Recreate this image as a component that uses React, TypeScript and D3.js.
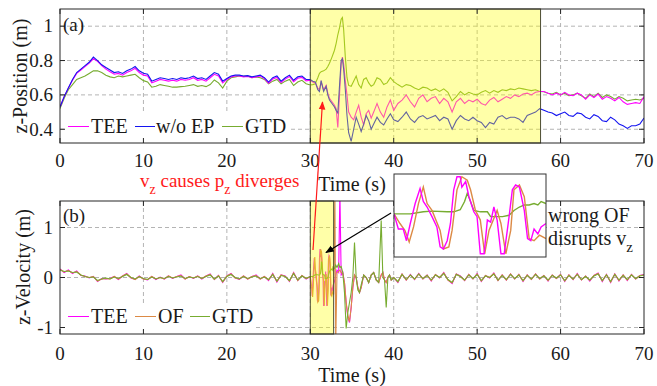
import React from 'react';
import * as d3 from 'd3';

const W = 657;
const H = 386;
const FONT = "'Liberation Serif', 'DejaVu Serif', 'Times New Roman', Times, serif";

// sample instants
const tPre = d3.range(0, 29.99, 0.5); // 0 .. 29.5
const tPost = d3.range(40.5, 70.01, 0.5); // 40.5 .. 70
const tPosMid = [30, 30.3, 30.6, 30.9, 31.1, 31.3, 31.6, 31.9, 32.1, 32.3, 32.6, 32.9, 33.1, 33.3, 33.5, 33.7, 33.85, 34.0, 34.2, 34.4, 34.6, 34.9, 35.2, 35.5, 35.8, 36.1, 36.4, 36.7, 37.0, 37.3, 37.6, 38.0, 38.4, 38.8, 39.2, 39.6, 40.0];
const tVelMid = [32.95, 33.05, 33.2, 33.4, 33.55, 33.7, 33.9, 34.1, 34.3, 34.5, 34.7, 34.9, 35.1, 35.3, 35.5, 35.7, 35.9, 36.1, 36.4, 36.7, 37.0, 37.3, 37.6, 37.9, 38.2, 38.5, 38.7, 38.9, 39.1, 39.3, 39.5, 39.7, 40.0];

// (a) z-position
const posTEEpre = [0.53, 0.59, 0.64, 0.685, 0.725, 0.745, 0.765, 0.785, 0.81, 0.795, 0.77, 0.75, 0.735, 0.72, 0.725, 0.715, 0.73, 0.74, 0.755, 0.73, 0.715, 0.71, 0.67, 0.68, 0.69, 0.685, 0.68, 0.685, 0.68, 0.69, 0.685, 0.69, 0.7, 0.685, 0.69, 0.68, 0.7, 0.72, 0.71, 0.67, 0.69, 0.705, 0.71, 0.71, 0.705, 0.707, 0.7, 0.705, 0.71, 0.695, 0.668, 0.692, 0.702, 0.672, 0.692, 0.707, 0.677, 0.697, 0.702, 0.682];
const posTEEmid = [0.685, 0.675, 0.67, 0.64, 0.63, 0.675, 0.63, 0.655, 0.61, 0.58, 0.56, 0.54, 0.52, 0.41, 0.6, 0.78, 0.82, 0.78, 0.68, 0.6, 0.5, 0.47, 0.455, 0.5, 0.54, 0.47, 0.425, 0.49, 0.51, 0.465, 0.5, 0.55, 0.5, 0.47, 0.53, 0.57, 0.51];
const posTEEpost = [0.55, 0.57, 0.6, 0.56, 0.53, 0.58, 0.6, 0.56, 0.58, 0.59, 0.55, 0.58, 0.56, 0.5, 0.56, 0.58, 0.55, 0.57, 0.56, 0.575, 0.55, 0.54, 0.57, 0.585, 0.56, 0.575, 0.59, 0.58, 0.6, 0.59, 0.605, 0.61, 0.6, 0.615, 0.62, 0.62, 0.61, 0.6, 0.61, 0.6, 0.615, 0.6, 0.595, 0.61, 0.6, 0.575, 0.6, 0.585, 0.605, 0.575, 0.59, 0.58, 0.565, 0.585, 0.56, 0.545, 0.55, 0.555, 0.55, 0.59];

const posEPpre = [0.53, 0.59, 0.64, 0.69, 0.73, 0.75, 0.77, 0.79, 0.82, 0.8, 0.775, 0.76, 0.745, 0.73, 0.735, 0.725, 0.74, 0.75, 0.765, 0.74, 0.726, 0.72, 0.68, 0.69, 0.7, 0.695, 0.69, 0.695, 0.69, 0.7, 0.695, 0.7, 0.71, 0.695, 0.7, 0.69, 0.71, 0.73, 0.72, 0.68, 0.695, 0.71, 0.715, 0.715, 0.71, 0.712, 0.705, 0.71, 0.715, 0.7, 0.675, 0.7, 0.71, 0.68, 0.7, 0.715, 0.685, 0.705, 0.71, 0.69];
const posEPmid = [0.69, 0.68, 0.675, 0.63, 0.62, 0.683, 0.62, 0.65, 0.6, 0.57, 0.55, 0.53, 0.51, 0.495, 0.65, 0.8, 0.81, 0.75, 0.63, 0.48, 0.38, 0.33, 0.4, 0.47, 0.43, 0.387, 0.43, 0.48, 0.45, 0.4, 0.43, 0.47, 0.44, 0.425, 0.46, 0.49, 0.455];
const posEPpost = [0.445, 0.47, 0.5, 0.46, 0.44, 0.47, 0.48, 0.46, 0.47, 0.48, 0.45, 0.47, 0.46, 0.4, 0.45, 0.48, 0.46, 0.45, 0.47, 0.45, 0.44, 0.41, 0.44, 0.43, 0.47, 0.48, 0.46, 0.47, 0.47, 0.46, 0.44, 0.48, 0.49, 0.5, 0.52, 0.51, 0.5, 0.495, 0.48, 0.49, 0.5, 0.48, 0.475, 0.495, 0.49, 0.47, 0.46, 0.485, 0.475, 0.45, 0.445, 0.47, 0.455, 0.43, 0.42, 0.405, 0.42, 0.42, 0.43, 0.465];

const posGTDpre = [0.52, 0.58, 0.63, 0.66, 0.69, 0.7, 0.71, 0.725, 0.74, 0.74, 0.73, 0.715, 0.705, 0.7, 0.71, 0.705, 0.71, 0.715, 0.72, 0.7, 0.683, 0.675, 0.645, 0.65, 0.66, 0.655, 0.65, 0.645, 0.645, 0.648, 0.65, 0.655, 0.66, 0.65, 0.655, 0.648, 0.66, 0.687, 0.67, 0.64, 0.68, 0.7, 0.705, 0.71, 0.708, 0.71, 0.7, 0.705, 0.7, 0.69, 0.665, 0.68, 0.69, 0.665, 0.68, 0.69, 0.655, 0.675, 0.685, 0.665];
const posGTDmid = [0.658, 0.66, 0.665, 0.7, 0.726, 0.735, 0.74, 0.75, 0.765, 0.784, 0.82, 0.86, 0.9, 0.95, 0.99, 1.04, 1.05, 0.98, 0.82, 0.7, 0.655, 0.65, 0.68, 0.71, 0.66, 0.64, 0.69, 0.7, 0.67, 0.65, 0.66, 0.7, 0.69, 0.66, 0.67, 0.7, 0.677];
const posGTDpost = [0.66, 0.645, 0.66, 0.655, 0.64, 0.63, 0.645, 0.64, 0.625, 0.635, 0.62, 0.635, 0.615, 0.565, 0.59, 0.62, 0.6, 0.615, 0.605, 0.6, 0.615, 0.625, 0.61, 0.625, 0.615, 0.63, 0.625, 0.635, 0.63, 0.64, 0.635, 0.63, 0.625, 0.63, 0.62, 0.618, 0.61, 0.605, 0.615, 0.6, 0.61, 0.595, 0.6, 0.61, 0.595, 0.58, 0.605, 0.59, 0.61, 0.585, 0.6, 0.59, 0.575, 0.59, 0.58, 0.565, 0.57, 0.575, 0.57, 0.58];

// (b) z-velocity
const velTEEpre = [0.17, 0.1, 0.15, 0.08, 0.13, 0.04, 0.03, -0.01, 0.02, -0.08, -0.02, -0.03, -0.02, 0.02, -0.04, 0.03, 0.08, -0.01, -0.04, 0.03, -0.03, -0.05, 0.02, -0.04, 0.01, -0.03, 0.03, -0.02, 0.02, 0.05, -0.03, 0.02, -0.02, 0.03, -0.03, 0.03, 0.07, -0.04, 0.04, -0.1, 0.03, 0.08, -0.01, -0.04, 0.03, -0.03, 0.02, 0.05, -0.03, 0.02, -0.06, 0.08, -0.09, 0.05, 0.03, -0.08, 0.1, -0.06, 0.04, -0.03];
const velTEEmid = [-0.05, 0.05, 0.15, 0.1, 1.7, 0.05, 0.1, -0.1, -0.5, -0.8, -0.9, -0.6, -0.2, 0.05, 0.0, -0.2, -0.3, -0.2, 0.05, 0.0, -0.1, 0.05, 0.1, -0.05, -0.1, 0.05, 0.1, -0.05, -0.1, 0.0, 0.05, -0.05, 0.0];
const velTEEpost = [-0.1, 0.07, -0.05, 0.06, -0.04, 0.08, -0.03, 0.05, -0.07, 0.06, -0.01, 0.1, -0.05, -0.12, 0.07, 0.03, -0.06, 0.06, -0.03, 0.08, -0.08, 0.04, -0.01, 0.09, -0.06, 0.05, -0.05, 0.07, -0.03, 0.06, -0.08, 0.05, -0.04, 0.07, -0.03, 0.04, -0.07, 0.05, -0.02, 0.06, -0.08, 0.05, -0.04, 0.08, -0.05, 0.03, -0.07, 0.04, 0.09, -0.08, 0.06, -0.1, 0.07, -0.07, 0.05, -0.06, 0.06, -0.03, 0.04, 0.06];

const velOFpre = [0.16, 0.11, 0.14, 0.09, 0.12, 0.05, 0.02, 0.0, 0.02, -0.07, -0.03, -0.02, -0.03, 0.02, -0.03, 0.03, 0.07, 0.0, -0.04, 0.02, -0.03, -0.04, 0.02, -0.03, 0.0, -0.03, 0.03, -0.01, 0.02, 0.04, -0.03, 0.02, -0.01, 0.03, -0.02, 0.03, 0.06, -0.04, 0.04, -0.09, 0.03, 0.07, -0.01, -0.03, 0.03, -0.03, 0.02, 0.04, -0.03, 0.02, -0.05, 0.07, -0.08, 0.05, 0.02, -0.07, 0.09, -0.06, 0.04, -0.02];
const velOFmid = [1.7, -1.3, 0.1, 0.12, 0.15, 0.1, 0.08, -0.1, -0.5, -0.75, -0.88, -0.6, -0.2, 0.05, 0.0, -0.2, -0.3, -0.2, 0.05, 0.0, -0.1, 0.05, 0.1, -0.05, -0.1, 0.05, 0.1, -0.05, -0.1, 0.0, 0.05, -0.05, 0.0];
const velOFpost = [-0.09, 0.07, -0.05, 0.05, -0.04, 0.07, -0.03, 0.05, -0.06, 0.06, 0.0, 0.09, -0.05, -0.11, 0.07, 0.02, -0.06, 0.06, -0.03, 0.07, -0.07, 0.04, 0.0, 0.08, -0.06, 0.05, -0.05, 0.07, -0.03, 0.06, -0.07, 0.05, -0.04, 0.07, -0.03, 0.04, -0.06, 0.05, -0.02, 0.06, -0.07, 0.05, -0.04, 0.07, -0.05, 0.03, -0.06, 0.04, 0.08, -0.07, 0.06, -0.09, 0.07, -0.06, 0.05, -0.05, 0.06, -0.03, 0.04, 0.05];

const velGTDpre = [0.15, 0.12, 0.13, 0.1, 0.11, 0.05, 0.02, 0.0, 0.01, -0.06, -0.03, -0.01, -0.03, 0.01, -0.02, 0.02, 0.06, 0.0, -0.03, 0.02, -0.02, -0.04, 0.01, -0.03, 0.0, -0.02, 0.02, -0.01, 0.01, 0.03, -0.02, 0.01, -0.01, 0.02, -0.02, 0.02, 0.05, -0.03, 0.03, -0.08, 0.02, 0.06, 0.0, -0.03, 0.02, -0.02, 0.01, 0.03, -0.02, 0.01, -0.04, 0.06, -0.07, 0.04, 0.02, -0.06, 0.08, -0.05, 0.03, -0.02];
const velGTDmid = [0.2, 0.25, 0.2, 0.28, 0.2, 0.22, 0.1, -0.3, -1.02, -0.7, -0.5, -0.3, 0.0, 0.7, 0.0, -0.25, -0.3, -0.15, 0.05, 0.0, -0.1, 0.05, 0.1, -0.05, -0.1, 1.14, 0.0, -0.05, -0.6, 0.0, 0.05, -0.05, 0.0];
const velGTDpost = [-0.08, 0.06, -0.04, 0.05, -0.03, 0.07, -0.02, 0.04, -0.05, 0.05, 0.0, 0.08, -0.04, -0.1, 0.06, 0.02, -0.05, 0.05, -0.02, 0.06, -0.06, 0.03, 0.0, 0.07, -0.05, 0.04, -0.04, 0.06, -0.02, 0.05, -0.06, 0.04, -0.03, 0.06, -0.02, 0.03, -0.05, 0.04, -0.01, 0.05, -0.06, 0.04, -0.03, 0.06, -0.04, 0.02, -0.05, 0.03, 0.07, -0.06, 0.05, -0.08, 0.06, -0.05, 0.04, -0.04, 0.05, -0.02, 0.03, 0.05];

// zoomed window 30 .. 32.8 s (also shown in the inset)
const inTEEt = [30.0, 30.08, 30.17, 30.23, 30.3, 30.39, 30.48, 30.54, 30.61, 30.7, 30.79, 30.85, 30.91, 30.98, 31.04, 31.1, 31.16, 31.22, 31.25, 31.32, 31.38, 31.47, 31.53, 31.59, 31.66, 31.72, 31.78, 31.84, 31.9, 31.97, 32.03, 32.12, 32.18, 32.24, 32.31, 32.4, 32.46, 32.52, 32.58, 32.65, 32.71, 32.8];
const inTEEv = [0.02, -0.2, -0.2, -0.37, -0.12, 0.17, 0.39, 0.2, 0.12, -0.02, -0.17, -0.46, -0.49, -0.37, -0.12, 0.37, 0.56, 0.56, 0.41, 0.49, 0.27, 0.05, -0.02, -0.56, -0.56, -0.07, -0.1, 0.12, -0.07, -0.56, -0.56, -0.02, 0.37, 0.44, 0.41, 0.07, -0.34, -0.37, -0.2, -0.27, -0.17, -0.12];
const inOFt = [30.0, 30.11, 30.2, 30.28, 30.36, 30.45, 30.54, 30.61, 30.7, 30.85, 30.91, 31.01, 31.07, 31.16, 31.25, 31.35, 31.41, 31.5, 31.59, 31.67, 31.75, 31.9, 31.97, 32.06, 32.15, 32.21, 32.31, 32.4, 32.49, 32.58, 32.68, 32.8];
const inOFv = [0.02, -0.12, -0.22, -0.39, -0.17, 0.17, 0.41, 0.17, 0.07, -0.22, -0.49, -0.46, -0.22, 0.37, 0.56, 0.51, 0.37, 0.07, -0.07, -0.56, -0.22, 0.07, -0.12, -0.56, -0.22, 0.37, 0.44, 0.27, -0.34, -0.37, -0.29, -0.34];
const inGTDt = [30.0, 30.3, 30.54, 30.7, 30.98, 31.1, 31.22, 31.3, 31.35, 31.41, 31.47, 31.59, 31.72, 31.78, 32.0, 32.12, 32.21, 32.31, 32.4, 32.49, 32.58, 32.65, 32.71, 32.8];
const inGTDv = [0.02, 0.02, 0.05, 0.06, 0.05, 0.05, 0.08, 0.2, 0.32, 0.2, 0.07, 0.05, 0.05, -0.02, -0.02, 0.0, 0.07, 0.12, 0.15, 0.15, 0.17, 0.15, 0.2, 0.17];

const xTicks = [0, 10, 20, 30, 40, 50, 60, 70];
const posTicks = [0.4, 0.6, 0.8, 1];
const velTicks = [-1, 0, 1];

type Pt = [number, number];
const zip = (ts: number[], vs: number[]): Pt[] =>
  vs.map((v, i) => [ts[i], v] as Pt).filter(d => d[0] !== undefined);

const posTEE = [...zip(tPre, posTEEpre), ...zip(tPosMid, posTEEmid), ...zip(tPost, posTEEpost)];
const posEP = [...zip(tPre, posEPpre), ...zip(tPosMid, posEPmid), ...zip(tPost, posEPpost)];
const posGTD = [...zip(tPre, posGTDpre), ...zip(tPosMid, posGTDmid), ...zip(tPost, posGTDpost)];

const inTEE = zip(inTEEt, inTEEv);
const inOF = zip(inOFt, inOFv);
const inGTD = zip(inGTDt, inGTDv);

const velTEE = [...zip(tPre, velTEEpre), ...inTEE, ...zip(tVelMid, velTEEmid), ...zip(tPost, velTEEpost)];
const velOF = [...zip(tPre, velOFpre), ...inOF, ...zip(tVelMid, velOFmid), ...zip(tPost, velOFpost)];
const velGTD = [...zip(tPre, velGTDpre), ...inGTD, ...zip(tVelMid, velGTDmid), ...zip(tPost, velGTDpost)];

const C_TEE = '#ff00ff';
const C_EP = '#1414f0';
const C_GTD = '#77ac30';
const C_OF = '#dc8a45';
const AX = '#262626';
const GRID = '#b4b4b4';
const TXT = '#1a1a1a';

const L = 60, R = 644;
const topY = [9, 143];
const botY = [201, 334];

const x = d3.scaleLinear().domain([0, 70]).range([L, R]);
const yPos = d3.scaleLinear().domain([0.32, 1.1]).range([topY[1], topY[0]]);
const yVel = d3.scaleLinear().domain([-1.13, 1.53]).range([botY[1], botY[0]]);
const xIn = d3.scaleLinear().domain([30, 32.8]).range([394, 546]);
const yIn = d3.scaleLinear().domain([-0.6, 0.6]).range([256.5, 174]);

const Grid = ({ y0, y1, yScale, yTicks }: any) => (
  <g>
    {xTicks.slice(1, -1).map(t => (
      <line key={'gx' + t} x1={x(t)} x2={x(t)} y1={y0} y2={y1} stroke={GRID} strokeDasharray="4 3" />
    ))}
    {yTicks.map((t: number) => (
      <line key={'gy' + t} x1={L} x2={R} y1={yScale(t)} y2={yScale(t)} stroke={GRID} strokeDasharray="4 3" />
    ))}
  </g>
);

const Box = ({ y0, y1, yScale, yTicks, labelY }: any) => (
  <g>
    <rect x={L} y={y0} width={R - L} height={y1 - y0} fill="none" stroke={AX} strokeWidth={1} />
    {xTicks.map(t => (
      <g key={'tx' + t}>
        <line x1={x(t)} x2={x(t)} y1={y1} y2={y1 - 5} stroke={AX} />
        <line x1={x(t)} x2={x(t)} y1={y0} y2={y0 + 5} stroke={AX} />
        <text x={x(t)} y={labelY} textAnchor="middle" fontSize={19} fill={TXT}>{t}</text>
      </g>
    ))}
    {yTicks.map((t: number) => (
      <g key={'ty' + t}>
        <line x1={L} x2={L + 5} y1={yScale(t)} y2={yScale(t)} stroke={AX} />
        <line x1={R} x2={R - 5} y1={yScale(t)} y2={yScale(t)} stroke={AX} />
        <text x={53} y={yScale(t)} dy="0.33em" textAnchor="end" fontSize={19} fill={TXT}>{String(t)}</text>
      </g>
    ))}
  </g>
);

export default function App() {
  const linePos = d3.line<Pt>().x(d => x(d[0])).y(d => yPos(d[1]));
  const lineVel = d3.line<Pt>().x(d => x(d[0])).y(d => yVel(d[1]));
  const lineIn = d3.line<Pt>().x(d => xIn(d[0])).y(d => yIn(d[1]));

  return (
    <div style={{ position: 'fixed', left: 0, top: 0 }}>
      <svg width={W} height={H} viewBox={`0 0 ${W} ${H}`} style={{ display: 'block', background: '#fff' }}>
        <defs>
          <clipPath id="clipTop"><rect x={L} y={topY[0]} width={R - L} height={topY[1] - topY[0]} /></clipPath>
          <clipPath id="clipBot"><rect x={L} y={botY[0]} width={R - L} height={botY[1] - botY[0]} /></clipPath>
          <clipPath id="clipIn"><rect x={394} y={174} width={152} height={83} /></clipPath>
          <marker id="arRed" viewBox="0 0 10 10" refX="9" refY="5" markerWidth="7" markerHeight="7" orient="auto">
            <path d="M0,1 L10,5 L0,9 z" fill="#ff1a1a" />
          </marker>
          <marker id="arBlack" viewBox="0 0 10 10" refX="9" refY="5" markerWidth="7" markerHeight="7" orient="auto">
            <path d="M0,1 L10,5 L0,9 z" fill="#000" />
          </marker>
        </defs>

        <g fontFamily={FONT}>
          {/* (a) position */}
          <Grid y0={topY[0]} y1={topY[1]} yScale={yPos} yTicks={posTicks} />
          <g clipPath="url(#clipTop)" fill="none" strokeWidth={1.1}>
            <path d={linePos(posGTD) || ''} stroke={C_GTD} />
            <path d={linePos(posTEE) || ''} stroke={C_TEE} />
            <path d={linePos(posEP) || ''} stroke={C_EP} />
          </g>
          <rect x={x(30)} y={topY[0]} width={x(57.6) - x(30)} height={topY[1] - topY[0]} fill="#ffff00" fillOpacity={0.34} stroke="#4d4d33" strokeWidth={1} />
          <rect x={66} y={113} width={224} height={27} fill="#fff" />
          <g fontSize={20} fill={TXT}>
            <line x1={68} x2={89} y1={126.5} y2={126.5} stroke={C_TEE} />
            <text x={91} y={133}>TEE</text>
            <line x1={135} x2={155} y1={126.5} y2={126.5} stroke={C_EP} />
            <text x={156} y={133}>w/o EP</text>
            <line x1={222} x2={243} y1={126.5} y2={126.5} stroke={C_GTD} />
            <text x={245} y={133}>GTD</text>
          </g>
          <Box y0={topY[0]} y1={topY[1]} yScale={yPos} yTicks={posTicks} labelY={167} />
          <text x={63} y={31} fontSize={19} fill={TXT}>(a)</text>
          <text transform="translate(27,76) rotate(-90)" textAnchor="middle" fontSize={20} fill={TXT}>z-Position (m)</text>
          <text x={352} y={191} textAnchor="middle" fontSize={20} fill={TXT}>Time (s)</text>

          {/* (b) velocity */}
          <Grid y0={botY[0]} y1={botY[1]} yScale={yVel} yTicks={velTicks} />
          <g clipPath="url(#clipBot)" fill="none" strokeWidth={1.1}>
            <path d={lineVel(velTEE) || ''} stroke={C_TEE} />
            <path d={lineVel(velOF) || ''} stroke={C_OF} />
            <path d={lineVel(velGTD) || ''} stroke={C_GTD} />
          </g>
          <rect x={x(30)} y={botY[0]} width={x(32.8) - x(30)} height={botY[1] - botY[0]} fill="#ffff00" fillOpacity={0.34} stroke="#4d4d33" strokeWidth={1} />
          <rect x={66} y={303} width={190} height={27} fill="#fff" />
          <g fontSize={20} fill={TXT}>
            <line x1={68} x2={89} y1={316.5} y2={316.5} stroke={C_TEE} />
            <text x={91} y={323}>TEE</text>
            <line x1={135} x2={156} y1={316.5} y2={316.5} stroke={C_OF} />
            <text x={158} y={323}>OF</text>
            <line x1={190} x2={210} y1={316.5} y2={316.5} stroke={C_GTD} />
            <text x={212} y={323}>GTD</text>
          </g>
          <Box y0={botY[0]} y1={botY[1]} yScale={yVel} yTicks={velTicks} labelY={360} />
          <text x={63} y={222} fontSize={19} fill={TXT}>(b)</text>
          <text transform="translate(30,267) rotate(-90)" textAnchor="middle" fontSize={20} fill={TXT}>z-Velocity (m)</text>
          <text x={352} y={382} textAnchor="middle" fontSize={20} fill={TXT}>Time (s)</text>

          {/* inset */}
          <rect x={394} y={174} width={152} height={83} fill="#fff" />
          <g clipPath="url(#clipIn)" fill="none" strokeWidth={1.4}>
            <path d={lineIn(inGTD) || ''} stroke={C_GTD} />
            <path d={lineIn(inOF) || ''} stroke={C_OF} />
            <path d={lineIn(inTEE) || ''} stroke={C_TEE} />
          </g>
          <rect x={394} y={174} width={152} height={83} fill="none" stroke="#333" strokeWidth={1} />

          {/* annotations */}
          <line x1={313} y1={250} x2={322.5} y2={102} stroke="#ff1a1a" strokeWidth={1.2} markerEnd="url(#arRed)" />
          <line x1={391} y1={213} x2={326} y2={252.5} stroke="#000" strokeWidth={1.2} markerEnd="url(#arBlack)" />
          <text x={140} y={187} fontSize={19} fill="#ff1a1a">
            v<tspan fontSize={14} dy={7}>z</tspan>
            <tspan dy={-7}> causes p</tspan>
            <tspan fontSize={14} dy={7}>z</tspan>
            <tspan dy={-7}> diverges</tspan>
          </text>
          <text x={548} y={222} fontSize={20} fill={TXT}>wrong OF</text>
          <text x={548} y={245} fontSize={20} fill={TXT}>
            disrupts v<tspan fontSize={15} dy={7}>z</tspan>
          </text>
        </g>
      </svg>
    </div>
  );
}
